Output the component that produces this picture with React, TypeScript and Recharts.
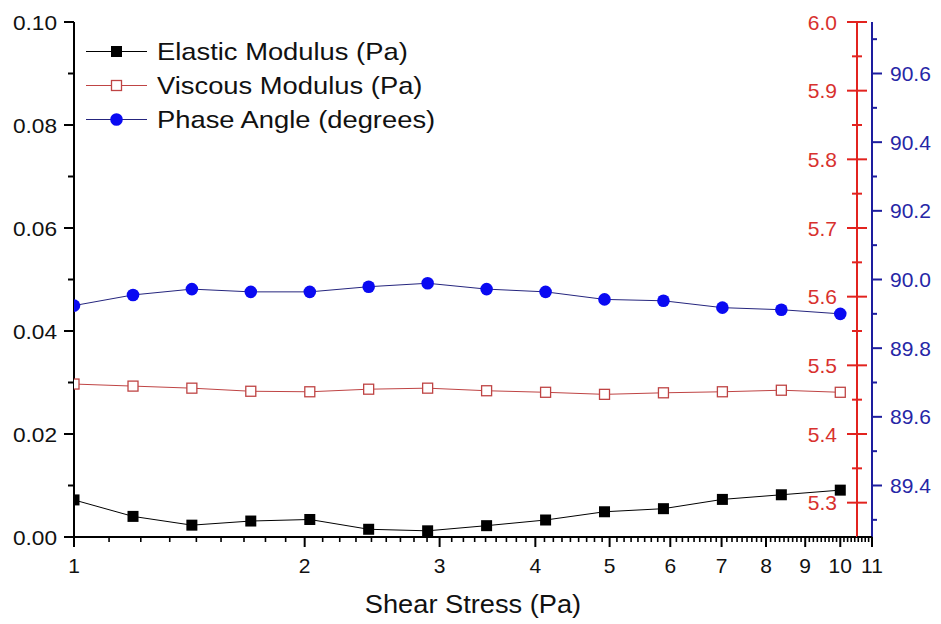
import React from 'react';
import { LineChart, Line, XAxis, YAxis, Legend, Label } from 'recharts';

// ---------- data ----------
const shearStress = [1, 1.194, 1.425, 1.701, 2.031, 2.424, 2.894, 3.455, 4.125, 4.924, 5.878, 7.017, 8.377, 10];
const elasticModulus = [0.0072, 0.004, 0.0023, 0.0031, 0.0034, 0.0015, 0.0012, 0.0022, 0.0033, 0.0049, 0.0055, 0.0073, 0.0082, 0.0091];
const viscousModulus = [0.0297, 0.0293, 0.0289, 0.0283, 0.0282, 0.0287, 0.0289, 0.0284, 0.0281, 0.0277, 0.028, 0.0282, 0.0285, 0.0281];
const phaseAngle = [89.924, 89.955, 89.972, 89.964, 89.964, 89.979, 89.989, 89.972, 89.964, 89.942, 89.938, 89.918, 89.912, 89.9];

const seriesNames = ['Elastic Modulus (Pa)', 'Viscous Modulus (Pa)', 'Phase Angle (degrees)'];

const xMajorTicks = [1, 2, 3, 4, 5, 6, 7, 8, 9, 10, 11];
const leftTicks = [0, 0.01, 0.02, 0.03, 0.04, 0.05, 0.06, 0.07, 0.08, 0.09, 0.1];
const redTicks = [5.3, 5.35, 5.4, 5.45, 5.5, 5.55, 5.6, 5.65, 5.7, 5.75, 5.8, 5.85, 5.9, 5.95, 6.0];
const blueTicks = [89.3, 89.4, 89.5, 89.6, 89.7, 89.8, 89.9, 90.0, 90.1, 90.2, 90.3, 90.4, 90.5, 90.6, 90.7];

const xMinorTicks: number[] = [];
for (let i = 1; i <= 10; i++) for (let k = 1; k <= 8; k++) xMinorTicks.push(i + k / 9);
const allXTicks = [...xMajorTicks, ...xMinorTicks].sort((a, b) => a - b);

const data = shearStress.map((x, i) => ({
  x,
  elastic: elasticModulus[i],
  viscous: viscousModulus[i],
  phase: phaseAngle[i],
}));

// ---------- styling ----------
const FONT = '"Liberation Sans", Arial, Helvetica, sans-serif';
const RED_AXIS_W = 15;
const BLUE_AXIS_W = 69;
const RED = '#e2231f';
const RED_TXT = '#d8312e';
const BLUE_AX = '#1d1d9e';
const BLUE_TXT = '#2626a6';
const VISC = '#bf4444';
const PHASE_LINE = '#25257e';
const PHASE_DOT = '#0a0af2';

const XTick = (props: any) => {
  const { x, y, payload } = props;
  const v = payload.value;
  const major = xMajorTicks.includes(v);
  return (
    <g>
      {v === 11 && <line x1={x - RED_AXIS_W} x2={x} y1={y} y2={y} stroke="#000" strokeWidth={2} />}
      <line x1={x} x2={x} y1={y} y2={y + (major ? 10 : 5)} stroke="#000" strokeWidth={major ? 2 : 1.6} />
      {major && (
        <text x={x} y={y + 36} textAnchor="middle" fontSize={21} fontFamily={FONT} fill="#111">
          {v}
        </text>
      )}
    </g>
  );
};

const LeftTick = (props: any) => {
  const { x, y, payload } = props;
  const v = payload.value;
  const major = Math.round(v * 100) % 2 === 0;
  return (
    <g>
      <line x1={x - (major ? 10 : 6)} x2={x} y1={y} y2={y} stroke="#000" strokeWidth={2} />
      {major && (
        <text
          transform={`translate(${x - 17} ${y + 7.5}) scale(1.08 1)`}
          textAnchor="end"
          fontSize={21}
          fontFamily={FONT}
          fill="#111"
        >
          {v.toFixed(2)}
        </text>
      )}
    </g>
  );
};

const RedTick = (props: any) => {
  const { x, y, payload } = props;
  const v = payload.value;
  const major = Math.round(v * 100) % 10 === 0;
  const h = major ? 10 : 5;
  return (
    <g>
      <line x1={x - h} x2={x + h} y1={y} y2={y} stroke={RED} strokeWidth={2} />
      {major && (
        <text x={x - 20} y={y + 7.5} textAnchor="end" fontSize={21} fontFamily={FONT} fill={RED_TXT}>
          {v.toFixed(1)}
        </text>
      )}
    </g>
  );
};

const BlueTick = (props: any) => {
  const { x, y, payload } = props;
  const v = payload.value;
  const major = Math.round(v * 10) % 2 === 0;
  return (
    <g>
      <line x1={x} x2={x + (major ? 10 : 5)} y1={y} y2={y} stroke={BLUE_AX} strokeWidth={2} />
      {major && (
        <text x={x + 18} y={y + 7.5} textAnchor="start" fontSize={21} fontFamily={FONT} fill={BLUE_TXT}>
          {v.toFixed(1)}
        </text>
      )}
    </g>
  );
};

const AxisTitle = (props: any) => {
  const { viewBox } = props;
  const cx = viewBox.x + (viewBox.width + RED_AXIS_W) / 2;
  const cy = viewBox.y + 76;
  return (
    <text
      transform={`translate(${cx} ${cy}) scale(1.09 1)`}
      textAnchor="middle"
      fontSize={25}
      fontFamily={FONT}
      fill="#111"
    >
      Shear Stress (Pa)
    </text>
  );
};

const squareDot = (p: any) => (
  <rect key={`e${p.index}`} x={p.cx - 5.5} y={p.cy - 5.5} width={11} height={11} fill="#000" />
);
const openSquareDot = (p: any) => (
  <rect key={`v${p.index}`} x={p.cx - 5} y={p.cy - 5} width={10} height={10} fill="#fff" stroke={VISC} strokeWidth={1.3} />
);
const circleDot = (p: any) => <circle key={`p${p.index}`} cx={p.cx} cy={p.cy} r={6.3} fill={PHASE_DOT} />;

const legendMarker = (key: string, cx: number, cy: number) => {
  if (key === 'elastic') return <rect x={cx - 5.5} y={cy - 5.5} width={11} height={11} fill="#000" />;
  if (key === 'viscous')
    return <rect x={cx - 5} y={cy - 5} width={10} height={10} fill="#fff" stroke={VISC} strokeWidth={1.3} />;
  return <circle cx={cx} cy={cy} r={6.3} fill={PHASE_DOT} />;
};

const LegendContent = (props: any) => {
  const { payload = [] } = props;
  const items = [...payload].sort((a: any, b: any) => seriesNames.indexOf(a.value) - seriesNames.indexOf(b.value));
  return (
    <svg width={941} height={150} style={{ position: 'absolute', left: 0, top: 0 }}>
      {items.map((item: any, i: number) => {
        const cy = 51.5 + i * 34;
        const lineColor = item.dataKey === 'viscous' ? VISC : item.dataKey === 'phase' ? PHASE_LINE : '#000';
        return (
          <g key={item.value}>
            <line x1={86} x2={147} y1={cy} y2={cy} stroke={lineColor} strokeWidth={1} />
            {legendMarker(item.dataKey, 116.5, cy)}
            <text
              transform={`translate(157 ${cy + 8.5}) scale(1.14 1)`}
              fontSize={24}
              fontFamily={FONT}
              fill="#111"
            >
              {item.value}
            </text>
          </g>
        );
      })}
    </svg>
  );
};

export default function App() {
  return (
    <div style={{ position: 'absolute', left: 0, top: 0, width: 941, height: 624, background: '#fff', fontFamily: FONT }}>
      <LineChart width={941} height={624} data={data} margin={{ top: 22, right: 0, bottom: 0, left: 0 }}>
        <XAxis
          dataKey="x"
          type="number"
          scale="log"
          domain={[1, 11]}
          allowDataOverflow
          ticks={allXTicks}
          interval={0}
          height={87}
          padding={{ left: 0, right: -RED_AXIS_W }}
          axisLine={{ stroke: '#000', strokeWidth: 2 }}
          tickLine={false}
          tickSize={0}
          tickMargin={0}
          tick={<XTick />}
        >
          <Label content={<AxisTitle />} />
        </XAxis>
        <XAxis
          xAxisId="top"
          orientation="top"
          type="number"
          dataKey="x"
          scale="log"
          domain={[1, 11]}
          allowDataOverflow
          height={0}
          tick={false}
          tickLine={false}
          axisLine={{ stroke: '#000', strokeWidth: 2 }}
        />
        <YAxis
          yAxisId="left"
          type="number"
          domain={[0, 0.1]}
          allowDataOverflow
          ticks={leftTicks}
          interval={0}
          width={74}
          axisLine={{ stroke: '#000', strokeWidth: 2 }}
          tickLine={false}
          tickSize={0}
          tickMargin={0}
          tick={<LeftTick />}
        />
        <YAxis
          yAxisId="r1"
          orientation="right"
          type="number"
          domain={[5.25, 6.0]}
          allowDataOverflow
          ticks={redTicks}
          interval={0}
          width={RED_AXIS_W}
          axisLine={{ stroke: RED, strokeWidth: 2 }}
          tickLine={false}
          tickSize={0}
          tickMargin={0}
          tick={<RedTick />}
        />
        <YAxis
          yAxisId="r2"
          orientation="right"
          type="number"
          domain={[89.25, 90.75]}
          allowDataOverflow
          ticks={blueTicks}
          interval={0}
          width={BLUE_AXIS_W}
          axisLine={{ stroke: BLUE_AX, strokeWidth: 2 }}
          tickLine={false}
          tickSize={0}
          tickMargin={0}
          tick={<BlueTick />}
        />
        <Legend
          layout="vertical"
          align="center"
          verticalAlign="middle"
          content={<LegendContent />}
          wrapperStyle={{ left: 0, top: 0, width: 941, height: 150 }}
        />
        <Line
          yAxisId="left"
          dataKey="elastic"
          name={seriesNames[0]}
          stroke="#000"
          strokeWidth={1}
          dot={squareDot}
          isAnimationActive={false}
        />
        <Line
          yAxisId="left"
          dataKey="viscous"
          name={seriesNames[1]}
          stroke={VISC}
          strokeWidth={1}
          dot={openSquareDot}
          isAnimationActive={false}
        />
        <Line
          yAxisId="r2"
          dataKey="phase"
          name={seriesNames[2]}
          stroke={PHASE_LINE}
          strokeWidth={1}
          dot={circleDot}
          isAnimationActive={false}
        />
      </LineChart>
    </div>
  );
}
